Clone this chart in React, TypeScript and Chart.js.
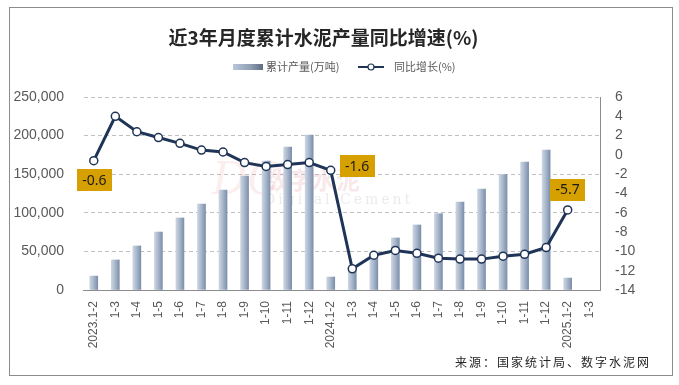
import { useEffect, useRef } from "react";
import { Chart, registerables } from "chart.js";

Chart.register(...registerables);

const titleText = "近3年月度累计水泥产量同比增速(%)";
const sourceText = "来源：国家统计局、数字水泥网";

const categories = [
  "2023.1-2", "1-3", "1-4", "1-5", "1-6", "1-7", "1-8", "1-9", "1-10", "1-11", "1-12",
  "2024.1-2", "1-3", "1-4", "1-5", "1-6", "1-7", "1-8", "1-9", "1-10", "1-11", "1-12",
  "2025.1-2", "1-3",
];

const outputLabel = "累计产量(万吨)";
const outputValues: (number | null)[] = [
  18000, 38900, 57000, 75100, 93300, 111400, 129500, 147700, 167100, 185200, 200800,
  16800, 30000, 48000, 67400, 84200, 98900, 114000, 130800, 149400, 165800, 181300,
  15500, null,
];

const growthLabel = "同比增长(%)";
const growthValues: (number | null)[] = [
  -0.6, 4.0, 2.4, 1.8, 1.2, 0.5, 0.3, -0.8, -1.2, -1.0, -0.8,
  -1.6, -11.8, -10.4, -9.9, -10.2, -10.7, -10.8, -10.8, -10.5, -10.3, -9.6,
  -5.7, null,
];

const leftTicks = [0, 50000, 100000, 150000, 200000, 250000];
const rightTicks = [-14, -12, -10, -8, -6, -4, -2, 0, 2, 4, 6];
const labelledPoints = [0, 11, 22];

const NAVY = "#1f3456";
const AXIS_GRAY = "#8c8c8c";
const TEXT_GRAY = "#595959";

function barGradient(ctx: CanvasRenderingContext2D, x0: number, x1: number) {
  const g = ctx.createLinearGradient(x0, 0, x1, 0);
  g.addColorStop(0, "#cbd5e2");
  g.addColorStop(0.5, "#a6b5c9");
  g.addColorStop(1, "#7d8fab");
  return g;
}

const decorPlugin = {
  id: "decor",
  beforeDraw(chart: any) {
    const ctx: CanvasRenderingContext2D = chart.ctx;
    ctx.save();
    ctx.fillStyle = "#ffffff";
    ctx.fillRect(0, 0, chart.width, chart.height);
    ctx.strokeStyle = AXIS_GRAY;
    ctx.lineWidth = 1;
    ctx.strokeRect(9.5, 7.5, 663, 368);

    // title
    ctx.font = 'bold 19px "Noto Sans CJK SC"';
    ctx.fillStyle = "#262626";
    ctx.textAlign = "center";
    ctx.textBaseline = "middle";
    ctx.fillText(titleText, 323.5, 38);

    // legend
    const ly = 67;
    const sw = ctx.createLinearGradient(233, 0, 263, 0);
    sw.addColorStop(0, "#b9c7da");
    sw.addColorStop(0.6, "#8e9db3");
    sw.addColorStop(1, "#5f6b7e");
    ctx.fillStyle = sw;
    ctx.fillRect(233, ly - 3, 30, 6);
    ctx.font = '11px "Noto Sans CJK SC"';
    ctx.fillStyle = TEXT_GRAY;
    ctx.textAlign = "left";
    ctx.fillText(chart.data.datasets[0].label, 266, ly);

    ctx.strokeStyle = NAVY;
    ctx.lineWidth = 2;
    ctx.beginPath();
    ctx.moveTo(358, ly);
    ctx.lineTo(384, ly);
    ctx.stroke();
    ctx.beginPath();
    ctx.arc(371, ly, 3, 0, Math.PI * 2);
    ctx.fillStyle = "#ffffff";
    ctx.fill();
    ctx.lineWidth = 1.2;
    ctx.stroke();
    ctx.fillStyle = TEXT_GRAY;
    ctx.fillText(chart.data.datasets[1].label, 394, ly);
    ctx.restore();
  },
  beforeDatasetsDraw(chart: any) {
    const ctx: CanvasRenderingContext2D = chart.ctx;
    ctx.save();
    ctx.textAlign = "left";
    ctx.textBaseline = "middle";
    ctx.font = 'bold 24px "Noto Sans CJK SC"';
    ctx.fillStyle = "rgba(225, 140, 150, 0.2)";
    ctx.fillText("数字水泥", 264, 180);
    ctx.font = 'italic 44px "DejaVu Serif"';
    ctx.fillStyle = "rgba(225, 140, 150, 0.15)";
    ctx.fillText("DC", 212, 183);
    ctx.font = '14px "DejaVu Serif"';
    (ctx as any).letterSpacing = "3px";
    ctx.fillStyle = "rgba(190, 190, 190, 0.3)";
    ctx.fillText("Digital Cement", 264, 200);
    ctx.restore();
  },
  afterDatasetsDraw(chart: any) {
    const ctx: CanvasRenderingContext2D = chart.ctx;
    const meta = chart.getDatasetMeta(1);
    const offsets: Record<number, [number, number]> = {
      0: [0.5, 19.5],
      11: [26.5, -4],
      22: [0, -20],
    };
    ctx.save();
    ctx.font = '14px "Noto Sans"';
    ctx.textAlign = "center";
    ctx.textBaseline = "middle";
    labelledPoints.forEach((i) => {
      const pt = meta.data[i];
      const v = growthValues[i];
      if (!pt || v == null) return;
      const [dx, dy] = offsets[i] || [0, -20];
      const cx = pt.x + dx;
      const cy = pt.y + dy;
      const w = 35;
      const h = 22;
      ctx.fillStyle = "#d6a100";
      ctx.fillRect(Math.round(cx - w / 2), Math.round(cy - h / 2), w, h);
      ctx.fillStyle = "#1a1a1a";
      ctx.fillText(v.toFixed(1), cx, cy + 0.5);
    });
    ctx.restore();
  },
  afterDraw(chart: any) {
    const ctx: CanvasRenderingContext2D = chart.ctx;
    ctx.save();
    ctx.font = '12px "Noto Sans CJK SC"';
    (ctx as any).letterSpacing = "2px";
    ctx.fillStyle = "#262626";
    ctx.textAlign = "left";
    ctx.textBaseline = "middle";
    ctx.fillText(sourceText, 455, 362);
    ctx.restore();
  },
};

export default function App() {
  const canvasRef = useRef<HTMLCanvasElement | null>(null);

  useEffect(() => {
    document.body.style.margin = "0";
    const canvas = canvasRef.current;
    if (!canvas) return;

    const chart = new Chart(canvas, {
      type: "bar",
      data: {
        labels: categories,
        datasets: [
          {
            type: "bar",
            label: outputLabel,
            data: outputValues,
            yAxisID: "y",
            order: 2,
            barThickness: 8,
            borderWidth: 0,
            backgroundColor: (c: any) => {
              const xs = c.chart.scales?.x;
              if (!xs || c.dataIndex == null) return "#a6b5c9";
              const x = xs.getPixelForValue(c.dataIndex);
              if (!isFinite(x)) return "#a6b5c9";
              return barGradient(c.chart.ctx, x - 4, x + 4);
            },
          },
          {
            type: "line",
            label: growthLabel,
            data: growthValues,
            yAxisID: "y1",
            order: 1,
            borderColor: NAVY,
            borderWidth: 3,
            pointRadius: 4,
            pointBorderWidth: 1.5,
            pointBackgroundColor: "#ffffff",
            pointBorderColor: NAVY,
            tension: 0,
            spanGaps: false,
          },
        ],
      },
      options: {
        responsive: false,
        animation: false,
        devicePixelRatio: 1,
        layout: { padding: { top: 97, left: 0, right: 0, bottom: 0 } },
        plugins: {
          legend: { display: false },
          title: { display: false },
          tooltip: { enabled: false },
        },
        scales: {
          x: {
            offset: true,
            grid: { display: false, drawTicks: false },
            border: { display: true, color: AXIS_GRAY, width: 1 },
            ticks: {
              autoSkip: false,
              maxRotation: 90,
              minRotation: 90,
              padding: 11,
              color: TEXT_GRAY,
              font: { family: '"Liberation Sans"', size: 12 },
            },
            afterFit: (s: any) => {
              s.height = 95;
            },
          },
          y: {
            position: "left",
            min: 0,
            max: 250000,
            afterBuildTicks: (s: any) => {
              s.ticks = leftTicks.map((v) => ({ value: v }));
            },
            grid: {
              display: true,
              color: "#c0c0c0",
              drawTicks: false,
            },
            border: { display: true, color: "rgba(0,0,0,0)", width: 1, dash: [4, 3] },
            ticks: {
              autoSkip: false,
              padding: 19,
              color: TEXT_GRAY,
              font: { family: '"Liberation Sans"', size: 14 },
              callback: (v: any) => Number(v).toLocaleString("en-US"),
            },
            afterFit: (s: any) => {
              s.width = 83;
            },
          },
          y1: {
            position: "right",
            min: -14,
            max: 6,
            afterBuildTicks: (s: any) => {
              s.ticks = rightTicks.map((v) => ({ value: v }));
            },
            grid: { display: false, drawTicks: false },
            border: { display: true, color: AXIS_GRAY, width: 1 },
            ticks: {
              autoSkip: false,
              padding: 15,
              color: TEXT_GRAY,
              font: { family: '"Liberation Sans"', size: 14 },
              callback: (v: any) => String(v),
            },
            afterFit: (s: any) => {
              s.width = 79;
            },
          },
        },
      },
      plugins: [decorPlugin],
    });

    return () => chart.destroy();
  }, []);

  return (
    <div style={{ width: 679, height: 385 }}>
      <canvas ref={canvasRef} width={679} height={385} style={{ display: "block" }} />
    </div>
  );
}
